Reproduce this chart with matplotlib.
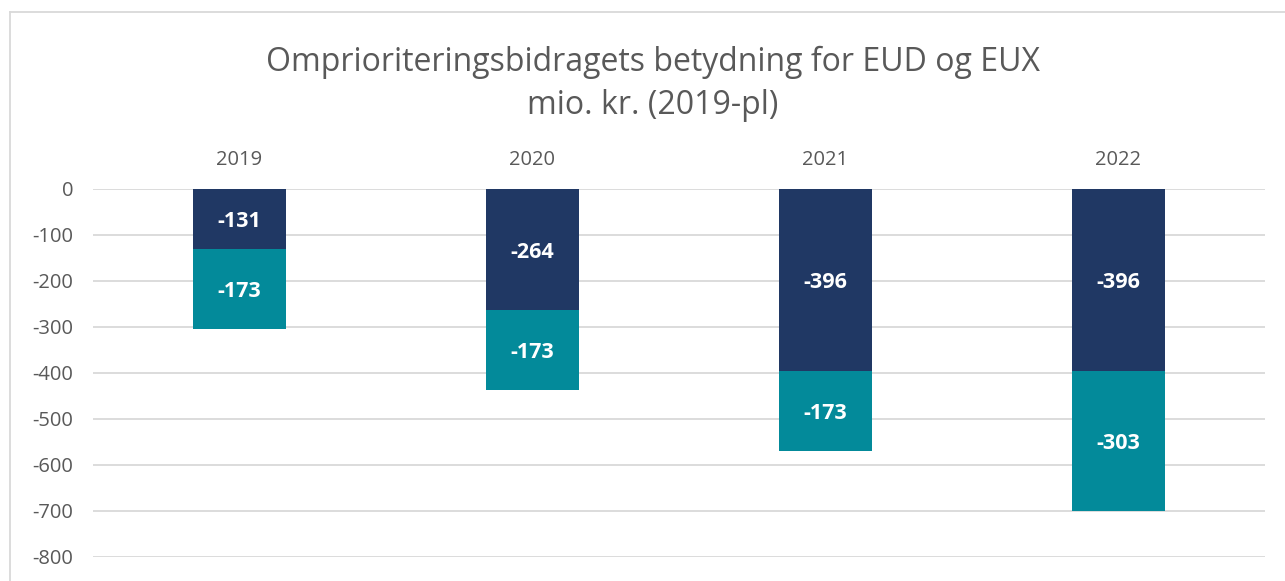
import matplotlib
matplotlib.use('Agg')
import matplotlib.pyplot as plt
from matplotlib.lines import Line2D

years = ['2019', '2020', '2021', '2022']
eud = [-131, -264, -396, -396]
eux = [-173, -173, -173, -303]
yticks = [0, -100, -200, -300, -400, -500, -600, -700, -800]

navy = '#203864'
teal = '#038A9A'
grey = '#595959'

plt.rcParams['font.family'] = ['Open Sans', 'DejaVu Sans']

W, H = 1285, 581
fig = plt.figure(figsize=(W / 100, H / 100), dpi=100)
ax = fig.add_axes([93 / W, 1 - 557 / H, (1265 - 93) / W, (557 - 189) / H])

x = list(range(len(years)))
bw = 0.315
ax.bar(x, eud, width=bw, color=navy, zorder=3)
ax.bar(x, eux, width=bw, bottom=eud, color=teal, zorder=3)

for i in x:
    ax.text(i, eud[i] / 2, str(eud[i]), ha='center', va='center_baseline',
            color='white', fontsize=15.5, fontweight='bold', zorder=4)
    ax.text(i, eud[i] + eux[i] / 2, str(eux[i]), ha='center',
            va='center_baseline', color='white', fontsize=15.5,
            fontweight='bold', zorder=4)

ax.set_xlim(-0.5, len(years) - 0.5)
ax.set_ylim(-800, 0)
ax.set_yticks(yticks)
ax.set_yticklabels([str(v) for v in yticks])
ax.set_xticks(x)
ax.set_xticklabels(years)
ax.xaxis.tick_top()
ax.tick_params(axis='both', length=0, colors=grey, labelsize=14.5)
ax.tick_params(axis='x', pad=14)
ax.tick_params(axis='y', pad=14)
for lab in ax.get_yticklabels():
    lab.set_horizontalalignment('right')
ax.grid(axis='y', color='#D9D9D9', linewidth=1.3, zorder=0)
for s in ax.spines.values():
    s.set_visible(False)

cx = 0.5 * (262 + 1043) / W
fig.text(cx, 1 - 58 / H,
         'Omprioriteringsbidragets betydning for EUD og EUX',
         ha='center', va='center_baseline', fontsize=23, color=grey)
fig.text(cx, 1 - 101 / H, 'mio. kr. (2019-pl)',
         ha='center', va='center_baseline', fontsize=23, color=grey)

# chart area border (cropped on right and bottom)
fig.add_artist(Line2D([9.5 / W, 9.5 / W], [0, 1 - 12 / H],
                      transform=fig.transFigure, color='#D9D9D9', lw=1.3))
fig.add_artist(Line2D([9.5 / W, 1], [1 - 12 / H, 1 - 12 / H],
                      transform=fig.transFigure, color='#D9D9D9', lw=1.3))

fig.savefig('out.png', dpi=100)
